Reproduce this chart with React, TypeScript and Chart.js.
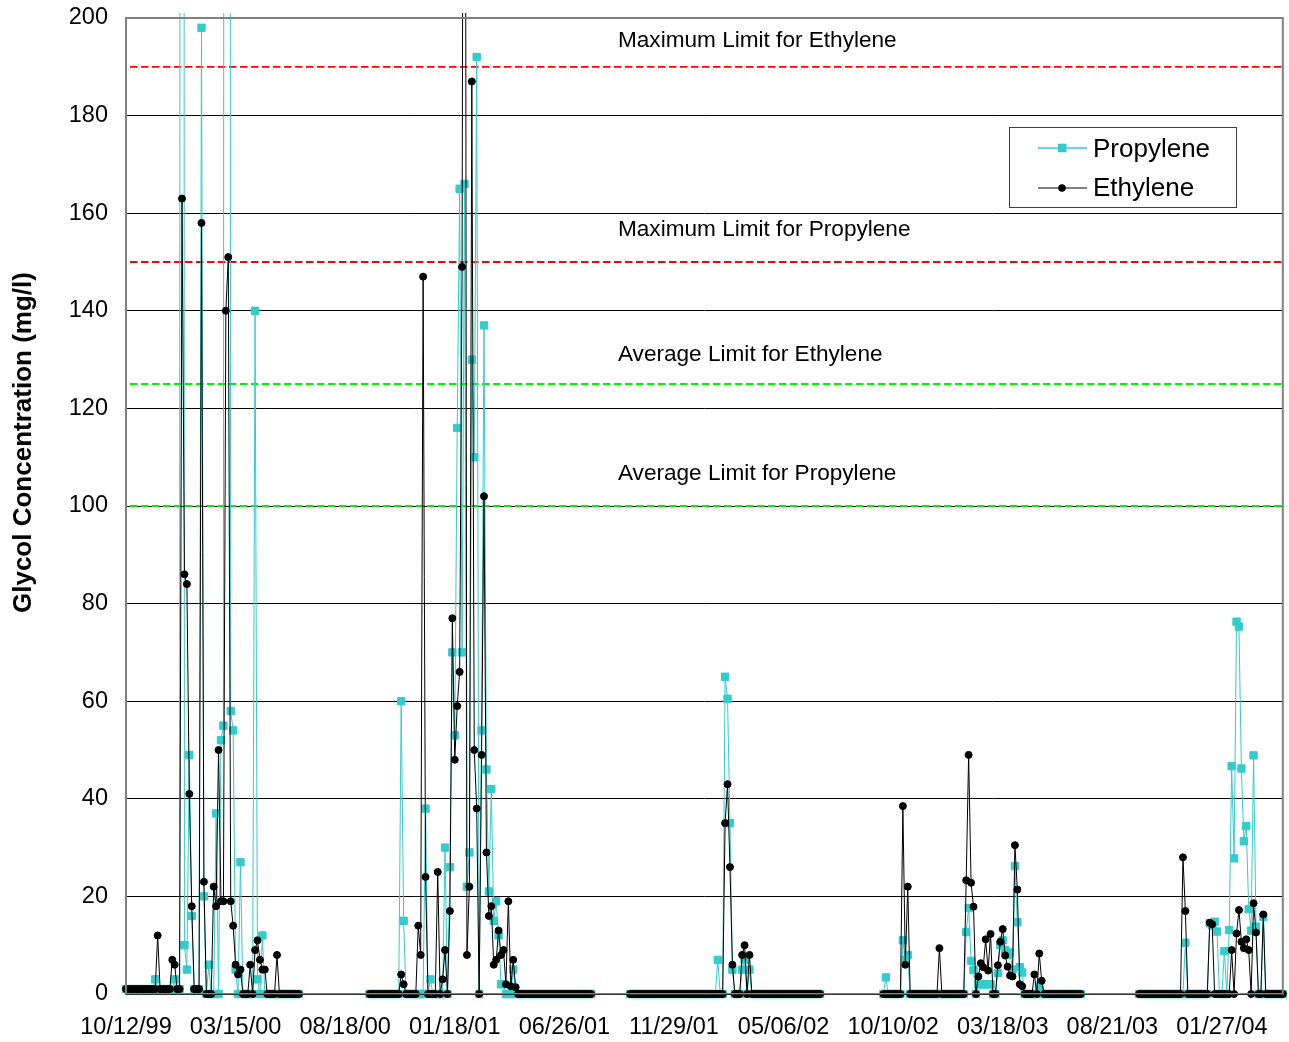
import { useEffect, useRef } from 'react';
import { Chart, registerables } from 'chart.js';

Chart.register(...registerables);

const FONT = "'Liberation Sans', Arial, Helvetica, sans-serif";

// X axis: sample rows, a date label every 45 rows
const tickLabels = ['10/12/99', '03/15/00', '08/18/00', '01/18/01', '06/26/01', '11/29/01', '05/06/02', '10/10/02', '03/18/03', '08/21/03', '01/27/04'];
const rowsPerLabel = 45;
const lastRow = 475;

// first row index of each sampling season (summer rows are blank)
const seasonStarts = [0, 100, 207, 311, 416];

// ---- Season 1 (rows 0-71)
const propylene1 = [
  1, 1, 1, 1, 1, 1, 1, 1, 1, 1, 1, 1,
  3, 1, 1, 1, 1, 1, 1, 1, 3, 1, 1,
  1500, 10, 5, 49, 16, 1, 1, 1, 198, 20,
  0, 6, 0, 0, 37, 0, 52, 55, 1200, 1000,
  58, 54, 5, 0, 27, 0, 0, 0, 0, 0,
  140, 3, 0, 12, 0, 0, 0, 0, 0, 0,
  0, 0, 0, 0, 0, 0, 0, 0, 0,
];
const ethylene1 = [
  1, 1, 1, 1, 1, 1, 1, 1, 1, 1, 1, 1,
  1, 12, 1, 1, 1, 1, 1, 7, 6, 1, 1,
  163, 86, 84, 41, 18, 1, 1, 1, 158, 23,
  0, 0, 0, 22, 18, 50, 19, 19, 140, 151,
  19, 14, 6, 4, 5, 0, 0, 0, 6, 0,
  9, 11, 7, 5, 5, 0, 0, 0, 0, 8,
  0, 0, 0, 0, 0, 0, 0, 0, 0,
];

// ---- Season 2 (rows 100-191)
const propylene2 = [
  0, 0, 0, 0, 0, 0, 0, 0, 0, 0, 0, 0, 0,
  60, 15, 0, 0, 0, 0, 0,
  0, 0, 0, 38, 0, 3, 0, 0, 0, 0,
  0, 30, 0, 26, 70, 53, 116, 165, 70, 166,
  22, 29, 130, 110, 192, 0, 54, 137, 46, 21,
  42, 15, 19, 12, 2, 2, 0, 0, 0, 5,
  0,
  0, 0, 0, 0, 0, 0, 0, 0, 0, 0,
  0, 0, 0, 0, 0, 0, 0, 0, 0, 0,
  0, 0, 0, 0, 0, 0, 0, 0, 0, 0, 0,
];
const ethylene2 = [
  0, 0, 0, 0, 0, 0, 0, 0, 0, 0, 0, 0, 0,
  4, 2, 0, 0, 0, 0, 0,
  14, 8, 147, 24, 0, 0, 0, 0, 25, 0,
  3, 9, 0, 17, 77, 48, 59, 66, 149, 400,
  8, 22, 187, 50, 38, 0, 49, 102, 29, 16,
  18, 6, 7, 13, 8, 9, 2, 19, 1.6, 7,
  1.4,
  0, 0, 0, 0, 0, 0, 0, 0, 0, 0,
  0, 0, 0, 0, 0, 0, 0, 0, 0, 0,
  0, 0, 0, 0, 0, 0, 0, 0, 0, 0, 0,
];

// ---- Season 3 (rows 207-285)
const propylene3 = [
  0, 0, 0, 0, 0, 0, 0, 0, 0, 0, 0, 0, 0, 0, 0, 0, 0, 0,
  0, 0, 0, 0, 0, 0, 0, 0, 0, 0, 0, 0, 0, 0, 0, 0, 0, 0,
  7, 0, 0, 65, 60.5, 35, 5, 0, 0, 0,
  5, 7, 0, 5,
  0, 0, 0, 0, 0, 0, 0, 0, 0, 0, 0, 0, 0, 0, 0,
  0, 0, 0, 0, 0, 0, 0, 0, 0, 0, 0, 0, 0, 0,
];
const ethylene3 = [
  0, 0, 0, 0, 0, 0, 0, 0, 0, 0, 0, 0, 0, 0, 0, 0, 0, 0,
  0, 0, 0, 0, 0, 0, 0, 0, 0, 0, 0, 0, 0, 0, 0, 0, 0, 0,
  0, 0, 0, 35, 43, 26, 6, 0, 0, 0,
  8, 10, 0, 8,
  0, 0, 0, 0, 0, 0, 0, 0, 0, 0, 0, 0, 0, 0, 0,
  0, 0, 0, 0, 0, 0, 0, 0, 0, 0, 0, 0, 0, 0,
];

// ---- Season 4 (rows 311-392)
const propylene4 = [
  0, 3.4, 0, 0, 0, 0, 0, 0,
  11, 7, 8,
  0, 0, 0, 0, 0, 0, 0, 0, 0, 0, 0, 0,
  0,
  0, 0, 0, 0, 0, 0, 0, 0, 0, 0,
  12.7, 17.6, 6.8, 4.9, 0, 2, 2, 2, 2, 2,
  2, 0, 0, 4.3, 10, 11, 9, 8, 8.5, 5,
  26.2, 14.7, 5.5, 4.4,
  0, 0, 0, 0,
  0, 0, 1.7, 0,
  0, 0, 0, 0, 0, 0, 0, 0, 0, 0, 0, 0, 0, 0, 0, 0,
];
const ethylene4 = [
  0, 0, 0, 0, 0, 0, 0, 0,
  38.5, 6, 22,
  0, 0, 0, 0, 0, 0, 0, 0, 0, 0, 0, 0,
  9.4,
  0, 0, 0, 0, 0, 0, 0, 0, 0, 0,
  23.3, 49, 22.8, 17.9, 0, 3.6, 6.3, 5.5, 11.2, 4.8,
  12.3, 0, 0, 5.9, 10.7, 13.3, 7.9, 5.6, 3.8, 3.6,
  30.5, 21.4, 2, 1.6,
  0, 0, 0, 0,
  4, 0, 8.3, 2.7,
  0, 0, 0, 0, 0, 0, 0, 0, 0, 0, 0, 0, 0, 0, 0, 0,
];

// ---- Season 5 (rows 416-475)
const propylene5 = [
  0, 0, 0, 0, 0, 0, 0, 0, 0, 0, 0, 0, 0, 0, 0, 0, 0, 0,
  0, 10.5,
  0, 0, 0, 0, 0, 0, 0, 0, 0,
  14.5, 14, 14.8, 12.8, 0, 0, 8.8, 0, 13.1, 46.7,
  27.8, 76.3, 75.3, 46.2, 31.3, 34.4, 17.4, 13, 48.9, 13.8,
  0, 0, 15.8,
  0, 0, 0, 0, 0, 0, 0, 0,
];
const ethylene5 = [
  0, 0, 0, 0, 0, 0, 0, 0, 0, 0, 0, 0, 0, 0, 0, 0, 0, 0,
  28, 17,
  0, 0, 0, 0, 0, 0, 0, 0, 0,
  14.6, 14.3, 0, 0, 0, 0, 0, 0, 0, 9,
  0, 12.4, 17.2, 10.7, 9.4, 11.2, 9, 0, 18.6, 12.6,
  0, 0, 16.3,
  0, 0, 0, 0, 0, 0, 0, 0,
];

const propyleneSeasons = [propylene1, propylene2, propylene3, propylene4, propylene5];
const ethyleneSeasons = [ethylene1, ethylene2, ethylene3, ethylene4, ethylene5];

// Limit lines
const limitValues = [190, 150, 125, 100];
const limitNames = ['Maximum Limit for Ethylene', 'Maximum Limit for Propylene', 'Average Limit for Ethylene', 'Average Limit for Propylene'];
const limitColors = ['#ff0000', '#ff0000', '#00f000', '#00f000'];
const limitLabelBaselines = [194, 155.3, 129.7, 105.3];
const limitLabelRow = 202;

const PROP_COLOR = '#33cccc';

function buildPoints(seasons: number[][]) {
  const pts: { x: number; y: number | null }[] = [];
  seasons.forEach((vals, s) => {
    vals.forEach((v, i) => pts.push({ x: seasonStarts[s] + i, y: v }));
    pts.push({ x: seasonStarts[s] + vals.length, y: null });
  });
  return pts;
}

const limitsPlugin = {
  id: 'limits',
  beforeDatasetsDraw(chart: any) {
    const { ctx, chartArea } = chart;
    const y = chart.scales.y;
    ctx.save();
    limitValues.forEach((v, i) => {
      const py = y.getPixelForValue(v);
      ctx.strokeStyle = limitColors[i];
      ctx.lineWidth = 1.8;
      ctx.setLineDash([7.5, 3.5]);
      ctx.beginPath();
      ctx.moveTo(chartArea.left + 4, py);
      ctx.lineTo(chartArea.right, py);
      ctx.stroke();
    });
    ctx.restore();
  },
  afterDatasetsDraw(chart: any) {
    const { ctx, chartArea } = chart;
    const x = chart.scales.x;
    const y = chart.scales.y;
    ctx.save();
    // frame
    ctx.strokeStyle = '#808080';
    ctx.lineWidth = 2;
    ctx.strokeRect(chartArea.left, chartArea.top, chartArea.right - chartArea.left, chartArea.bottom - chartArea.top);
    ctx.strokeStyle = '#333';
    ctx.lineWidth = 1;
    ctx.beginPath();
    ctx.moveTo(chartArea.left, chartArea.bottom + 0.5);
    ctx.lineTo(chartArea.right, chartArea.bottom + 0.5);
    ctx.stroke();
    // labels
    ctx.fillStyle = '#000';
    ctx.font = `22.6px ${FONT}`;
    ctx.textAlign = 'left';
    ctx.textBaseline = 'alphabetic';
    limitNames.forEach((name, i) => {
      ctx.fillText(name, x.getPixelForValue(limitLabelRow), y.getPixelForValue(limitLabelBaselines[i]));
    });
    ctx.restore();
  },
  afterDraw(chart: any) {
    const { ctx } = chart;
    const y = chart.scales.y;
    ctx.save();
    // y axis title
    ctx.translate(31, y.getPixelForValue(113));
    ctx.rotate(-Math.PI / 2);
    ctx.font = `bold 26px ${FONT}`;
    ctx.fillStyle = '#000';
    ctx.textAlign = 'center';
    ctx.textBaseline = 'alphabetic';
    ctx.fillText('Glycol Concentration (mg/l)', 0, 0);
    ctx.restore();

    // legend
    const box = { x: 1009.5, y: 127.5, w: 227, h: 80 };
    ctx.save();
    ctx.fillStyle = '#fff';
    ctx.fillRect(box.x, box.y, box.w, box.h);
    ctx.strokeStyle = '#404040';
    ctx.lineWidth = 1;
    ctx.strokeRect(box.x, box.y, box.w, box.h);
    // propylene
    ctx.strokeStyle = PROP_COLOR;
    ctx.lineWidth = 1.5;
    ctx.beginPath();
    ctx.moveTo(1038, 148);
    ctx.lineTo(1087, 148);
    ctx.stroke();
    ctx.fillStyle = PROP_COLOR;
    ctx.fillRect(1058, 143.7, 8.6, 8.6);
    // ethylene
    ctx.strokeStyle = '#000';
    ctx.lineWidth = 1;
    ctx.beginPath();
    ctx.moveTo(1038, 188);
    ctx.lineTo(1087, 188);
    ctx.stroke();
    ctx.fillStyle = '#000';
    ctx.beginPath();
    ctx.arc(1062, 188, 3.8, 0, Math.PI * 2);
    ctx.fill();
    ctx.font = `26px ${FONT}`;
    ctx.textAlign = 'left';
    ctx.textBaseline = 'alphabetic';
    ctx.fillText('Propylene', 1093, 157);
    ctx.fillText('Ethylene', 1093, 196);
    ctx.restore();
  },
};

export default function App() {
  const ref = useRef<HTMLCanvasElement>(null);
  useEffect(() => {
    const canvas = ref.current;
    if (!canvas) return;
    const chart = new Chart(canvas, {
      type: 'line',
      data: {
        datasets: [
          {
            label: 'Ethylene',
            data: buildPoints(ethyleneSeasons) as any,
            borderColor: '#000',
            backgroundColor: '#000',
            borderWidth: 1,
            pointStyle: 'circle',
            pointRadius: 3.5,
            pointBorderWidth: 1,
            pointBackgroundColor: '#000',
            pointBorderColor: '#000',
            spanGaps: false,
            tension: 0,
            clip: { left: 5, right: 5, top: 5, bottom: 5 } as any,
          },
          {
            label: 'Propylene',
            data: buildPoints(propyleneSeasons) as any,
            borderColor: PROP_COLOR,
            backgroundColor: PROP_COLOR,
            borderWidth: 1,
            pointStyle: 'rect',
            pointRadius: 5.2,
            pointBorderWidth: 1,
            pointBackgroundColor: PROP_COLOR,
            pointBorderColor: PROP_COLOR,
            spanGaps: false,
            tension: 0,
            clip: { left: 5, right: 5, top: 5, bottom: 5 } as any,
          },
        ],
      },
      options: {
        responsive: false,
        animation: false,
        devicePixelRatio: 1,
        events: [],
        layout: { padding: { top: 18, right: 6, left: 0, bottom: 0 } },
        plugins: {
          legend: { display: false },
          tooltip: { enabled: false },
          title: { display: false },
        },
        scales: {
          x: {
            type: 'linear',
            min: 0,
            max: lastRow,
            grid: { display: false, drawTicks: false },
            border: { display: false },
            afterBuildTicks: (s: any) => {
              s.ticks = tickLabels.map((_, i) => ({ value: i * rowsPerLabel }));
            },
            afterFit: (s: any) => {
              s.height = 48;
            },
            ticks: {
              autoSkip: false,
              maxRotation: 0,
              minRotation: 0,
              padding: 19,
              color: '#000',
              font: { family: FONT, size: 23.5 },
              callback: (v: any) => tickLabels[Math.round(Number(v) / rowsPerLabel)] ?? '',
            },
          },
          y: {
            min: 0,
            max: 200,
            afterFit: (s: any) => {
              s.width = 126;
            },
            grid: { color: '#000', lineWidth: 1, drawTicks: true, tickLength: 18, tickColor: 'rgba(0,0,0,0)' },
            border: { display: false },
            ticks: {
              stepSize: 20,
              padding: 0,
              color: '#000',
              font: { family: FONT, size: 23.5 },
            },
          },
        },
      },
      plugins: [limitsPlugin],
    });
    return () => chart.destroy();
  }, []);
  return (
    <div style={{ position: 'absolute', left: 0, top: 0, width: 1289, height: 1042, background: '#fff' }}>
      <canvas ref={ref} width={1289} height={1042} style={{ display: 'block' }} />
    </div>
  );
}
